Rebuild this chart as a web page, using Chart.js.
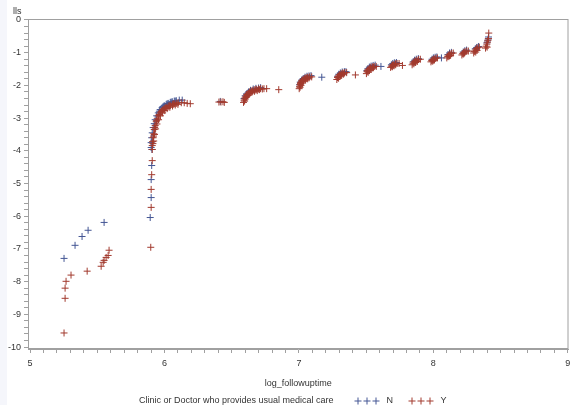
<!DOCTYPE html>
<html lang="en">
<head>
    <meta charset="UTF-8">
    <title>lls vs log_followuptime</title>
    <script src="https://cdn.jsdelivr.net/npm/chart.js"></script>
    <style>
        body { margin: 0; background: #fff; }
    </style>
</head>
<body>
    <canvas id="chart" width="573" height="413"></canvas>
    <script>
        // [log_followuptime, lls] for each group
        const groupN = [
            [5.253, -7.29], [5.335, -6.89], [5.387, -6.62], [5.432, -6.43], [5.551, -6.19],
            [5.894, -6.04], [5.901, -5.43], [5.901, -4.88], [5.905, -4.45], [5.907, -3.96],
            [5.901, -3.90], [5.901, -3.75], [5.905, -3.60], [5.909, -3.45], [5.916, -3.29],
            [5.924, -3.17], [5.931, -3.05], [5.942, -2.93], [5.954, -2.84], [5.968, -2.74],
            [5.983, -2.68], [5.998, -2.62], [6.013, -2.58], [6.028, -2.55], [6.043, -2.52],
            [6.058, -2.50], [6.073, -2.48], [6.088, -2.47], [6.110, -2.45], [6.132, -2.45],
            [5.962, -2.79], [5.990, -2.65], [6.020, -2.56], [6.050, -2.51], [6.080, -2.48],
            [6.415, -2.49],
            [6.592, -2.40], [6.600, -2.32], [6.610, -2.26], [6.625, -2.20], [6.640, -2.15],
            [6.660, -2.11], [6.680, -2.09], [6.700, -2.08], [6.715, -2.07],
            [7.005, -1.98], [7.010, -1.90], [7.020, -1.84], [7.032, -1.79], [7.045, -1.75],
            [7.060, -1.72], [7.075, -1.71], [7.090, -1.70], [7.170, -1.75],
            [7.288, -1.72], [7.296, -1.66], [7.308, -1.62], [7.322, -1.59], [7.338, -1.58], [7.350, -1.58],
            [7.505, -1.55], [7.513, -1.49], [7.524, -1.44], [7.537, -1.41], [7.552, -1.39], [7.567, -1.38],
            [7.610, -1.42],
            [7.688, -1.37], [7.698, -1.33], [7.710, -1.31], [7.725, -1.30],
            [7.850, -1.28], [7.860, -1.23], [7.873, -1.20], [7.888, -1.18],
            [7.990, -1.20], [8.000, -1.16], [8.013, -1.14], [8.026, -1.13], [8.060, -1.16],
            [8.108, -1.06], [8.120, -1.01], [8.134, -0.99],
            [8.222, -0.98], [8.234, -0.94], [8.247, -0.92],
            [8.312, -0.88], [8.322, -0.84], [8.335, -0.81],
            [8.398, -0.70], [8.403, -0.64], [8.408, -0.58], [8.410, -0.52]
        ];

        const groupY = [
            [5.305, -7.80], [5.268, -7.99], [5.261, -8.20], [5.261, -8.51], [5.253, -9.57],
            [5.425, -7.68], [5.529, -7.53], [5.544, -7.41], [5.551, -7.35], [5.566, -7.26],
            [5.581, -7.20], [5.588, -7.04],
            [5.898, -6.95], [5.901, -5.73], [5.901, -5.18], [5.905, -4.73], [5.909, -4.30],
            [5.909, -3.96], [5.909, -3.84], [5.912, -3.72], [5.916, -3.60], [5.920, -3.48],
            [5.924, -3.35], [5.931, -3.23], [5.939, -3.11], [5.946, -3.02], [5.954, -2.93],
            [5.968, -2.84], [5.983, -2.77], [5.998, -2.71], [6.013, -2.67], [6.028, -2.64],
            [6.043, -2.61], [6.058, -2.58], [6.073, -2.56], [6.088, -2.55], [6.102, -2.53],
            [6.125, -2.53], [6.147, -2.53], [6.169, -2.55], [6.192, -2.56],
            [5.920, -3.70], [5.926, -3.50], [5.934, -3.33], [5.944, -3.18], [5.956, -3.05],
            [5.970, -2.93], [5.986, -2.84], [6.002, -2.77], [6.020, -2.71], [6.040, -2.67],
            [6.060, -2.63], [6.080, -2.60], [6.100, -2.58],
            [5.914, -3.78], [5.918, -3.55], [5.927, -3.29], [5.942, -3.07], [5.961, -2.89],
            [5.976, -2.80], [5.990, -2.74], [6.006, -2.69], [6.035, -2.62], [6.066, -2.57],
            [6.405, -2.51], [6.420, -2.51], [6.435, -2.50], [6.445, -2.52],
            [6.588, -2.52], [6.592, -2.45], [6.597, -2.39], [6.604, -2.33], [6.612, -2.28],
            [6.622, -2.24], [6.633, -2.20], [6.645, -2.17], [6.658, -2.15], [6.672, -2.13],
            [6.686, -2.12], [6.700, -2.11], [6.715, -2.10], [6.740, -2.10], [6.760, -2.10],
            [6.600, -2.42], [6.610, -2.35], [6.620, -2.30], [6.635, -2.25], [6.650, -2.21],
            [6.670, -2.18], [6.690, -2.16], [6.850, -2.13],
            [6.596, -2.48], [6.606, -2.37], [6.616, -2.31], [6.628, -2.26], [6.642, -2.21],
            [6.656, -2.18], [6.680, -2.14], [6.706, -2.13], [6.728, -2.11],
            [7.002, -2.10], [7.005, -2.03], [7.009, -1.97], [7.014, -1.91], [7.021, -1.86],
            [7.030, -1.82], [7.040, -1.79], [7.052, -1.77], [7.065, -1.75], [7.080, -1.74],
            [7.095, -1.74], [7.015, -2.00], [7.025, -1.93], [7.035, -1.87], [7.050, -1.83], [7.065, -1.80],
            [7.008, -2.06], [7.012, -1.94], [7.019, -1.89], [7.028, -1.85], [7.045, -1.81],
            [7.058, -1.78], [7.075, -1.77],
            [7.282, -1.82], [7.287, -1.76], [7.294, -1.71], [7.303, -1.67], [7.314, -1.64],
            [7.326, -1.62], [7.340, -1.61], [7.355, -1.61], [7.295, -1.78], [7.305, -1.72],
            [7.318, -1.68], [7.330, -1.66], [7.290, -1.74], [7.310, -1.69], [7.335, -1.64],
            [7.420, -1.68],
            [7.502, -1.64], [7.507, -1.58], [7.514, -1.52], [7.523, -1.48], [7.534, -1.45],
            [7.546, -1.43], [7.560, -1.42], [7.575, -1.42], [7.515, -1.60], [7.525, -1.54],
            [7.538, -1.50], [7.550, -1.47], [7.510, -1.55], [7.530, -1.49], [7.555, -1.45],
            [7.682, -1.45], [7.688, -1.41], [7.696, -1.38], [7.706, -1.36], [7.718, -1.34],
            [7.730, -1.33], [7.745, -1.33], [7.695, -1.43], [7.708, -1.40], [7.720, -1.37],
            [7.702, -1.39], [7.770, -1.39],
            [7.842, -1.37], [7.848, -1.32], [7.856, -1.28], [7.866, -1.25], [7.878, -1.23],
            [7.890, -1.21], [7.903, -1.20], [7.855, -1.34], [7.868, -1.30], [7.880, -1.27],
            [7.862, -1.29],
            [7.982, -1.28], [7.988, -1.24], [7.996, -1.21], [8.006, -1.19], [8.018, -1.17],
            [8.030, -1.16], [7.995, -1.26], [8.008, -1.22], [8.002, -1.23],
            [8.100, -1.16], [8.106, -1.11], [8.114, -1.07], [8.124, -1.04], [8.136, -1.02],
            [8.148, -1.01], [8.115, -1.12], [8.128, -1.08], [8.120, -1.09],
            [8.212, -1.07], [8.218, -1.03], [8.226, -0.99], [8.236, -0.97], [8.248, -0.95],
            [8.260, -0.95], [8.225, -1.04], [8.232, -1.01],
            [8.300, -1.01], [8.305, -0.96], [8.312, -0.92], [8.320, -0.88], [8.330, -0.85],
            [8.342, -0.83], [8.315, -0.98], [8.325, -0.93],
            [8.388, -0.86], [8.393, -0.80], [8.398, -0.74], [8.402, -0.68], [8.406, -0.62],
            [8.410, -0.57], [8.400, -0.83], [8.412, -0.40]
        ];

        const groupLabels = ['N', 'Y'];
        const groupColors = ['#445694', '#A23A2E'];
        const xTickLabels = [5, 6, 7, 8, 9];
        const yTickLabels = [0, -1, -2, -3, -4, -5, -6, -7, -8, -9, -10];
        const legendTitle = 'Clinic or Doctor who provides usual medical care';

        const FONT = '"Liberation Sans", Arial, sans-serif';
        const AXIS = '#a0a0a0';
        const TEXT = '#333333';

        Chart.defaults.font.family = FONT;
        Chart.defaults.font.size = 9;
        Chart.defaults.color = TEXT;

        const toPoints = arr => arr.map(p => ({ x: p[0], y: p[1] }));

        // ticks every `step` between the first and last labelled value
        function minorTicks(labels, step) {
            const lo = Math.min(...labels), hi = Math.max(...labels);
            const n = Math.round((hi - lo) / step);
            const out = [];
            for (let i = 0; i <= n; i++) out.push({ value: +(lo + i * step).toFixed(4) });
            return out;
        }

        const intLabel = v => Math.abs(v - Math.round(v)) < 1e-6 ? String(Math.round(v) || 0) : '';

        const frameAndText = {
            id: 'frameAndText',
            beforeDraw(chart) {
                const ctx = chart.ctx;
                ctx.save();
                ctx.fillStyle = '#ffffff';
                ctx.fillRect(0, 0, chart.width, chart.height);
                ctx.fillStyle = '#f5f6fb';
                ctx.fillRect(0, 0, 7, 405);
                ctx.restore();
            },
            beforeDatasetsDraw(chart) {
                const { left, top, right, bottom } = chart.chartArea;
                const ctx = chart.ctx;
                ctx.save();
                ctx.strokeStyle = AXIS;
                ctx.lineWidth = 1;
                ctx.strokeRect(left + 0.5, top + 0.5, right - left - 1, bottom - top - 1);
                ctx.restore();
            },
            afterDraw(chart) {
                const ctx = chart.ctx;
                ctx.save();
                ctx.font = '9px ' + FONT;
                ctx.fillStyle = TEXT;
                ctx.textBaseline = 'middle';
                // y axis label sits above the axis
                ctx.fillText('lls', 13, 12);

                // legend row: title, then "+ + + N", "+ + + Y"
                const y = 401;
                ctx.fillText(legendTitle, 139, y);
                const groupX = [358, 412];
                groupLabels.forEach((lab, i) => {
                    const x = groupX[i];
                    ctx.strokeStyle = groupColors[i];
                    ctx.lineWidth = 1;
                    for (let k = 0; k < 3; k++) {
                        const cx = x + k * 9;
                        ctx.beginPath();
                        ctx.moveTo(cx - 3.5, y); ctx.lineTo(cx + 3.5, y);
                        ctx.moveTo(cx, y - 3.5); ctx.lineTo(cx, y + 3.5);
                        ctx.stroke();
                    }
                    ctx.fillStyle = TEXT;
                    ctx.fillText(lab, x + 28.5, y);
                });
                ctx.restore();
            }
        };

        const ctx = document.getElementById('chart').getContext('2d');

        new Chart(ctx, {
            type: 'scatter',
            data: {
                datasets: [groupN, groupY].map((g, i) => ({
                    label: groupLabels[i],
                    data: toPoints(g),
                    borderColor: groupColors[i],
                    backgroundColor: groupColors[i],
                    pointStyle: 'cross',
                    pointRadius: 3.5,
                    pointHoverRadius: 3.5,
                    borderWidth: 1,
                    order: 1 - i
                }))
            },
            options: {
                responsive: false,
                animation: false,
                layout: { padding: { left: 0, top: 19, right: 2, bottom: 19 } },
                plugins: { legend: { display: false }, tooltip: { enabled: false } },
                scales: {
                    x: {
                        type: 'linear',
                        min: 4.985,
                        max: 9.005,
                        afterBuildTicks: s => { s.ticks = minorTicks(xTickLabels, 0.1); },
                        afterFit: s => { s.height = 45; s.paddingLeft = 0; s.paddingRight = 0; },
                        ticks: { autoSkip: false, maxRotation: 0, padding: 5, callback: intLabel },
                        grid: { drawOnChartArea: false, tickLength: 4, color: AXIS },
                        border: { color: AXIS },
                        title: {
                            display: true,
                            text: 'log_followuptime',
                            padding: { top: 4, bottom: 5.5 }
                        }
                    },
                    y: {
                        type: 'linear',
                        min: -10.06,
                        max: 0.03,
                        afterBuildTicks: s => { s.ticks = minorTicks(yTickLabels, 0.2); },
                        afterFit: s => { s.width = 28; s.paddingTop = 0; s.paddingBottom = 0; },
                        ticks: { autoSkip: false, padding: 3, callback: intLabel },
                        grid: { drawOnChartArea: false, tickLength: 4, color: AXIS },
                        border: { color: AXIS }
                    }
                }
            },
            plugins: [frameAndText]
        });
    </script>
</body>
</html>
